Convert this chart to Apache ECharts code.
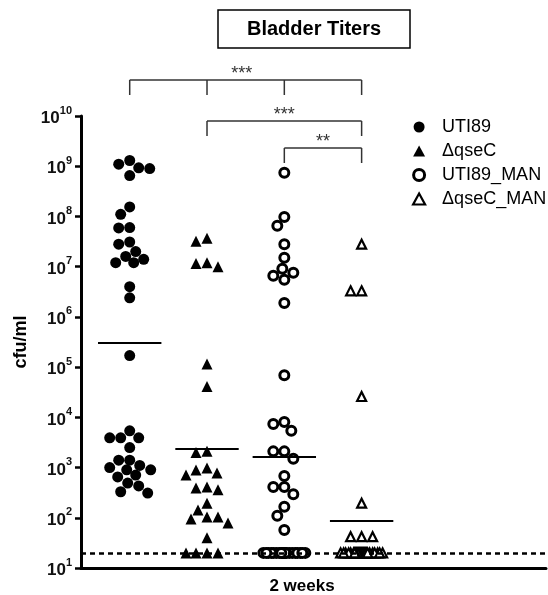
<!DOCTYPE html>
<html>
<head>
<meta charset="utf-8">
<script src="https://cdn.jsdelivr.net/npm/echarts@6/dist/echarts.min.js"></script>
<style>html,body{margin:0;padding:0;background:#fff}#chart{width:548px;height:595px}</style>
</head>
<body>
<div id="chart"></div>
<script>
var FONT = '"Liberation Sans", Arial, sans-serif';

var groupNames = ['UTI89', '\u0394qseC', 'UTI89_MAN', '\u0394qseC_MAN'];
var groupPos = [1, 2, 3, 4];

// cfu/ml (points at the limit drawn at 20)
var uti89 = [1.3e9, 1.1e9, 9.3e8, 9.0e8, 6.5e8, 1.55e8, 1.1e8, 6.0e7, 5.9e7, 3.1e7, 2.8e7, 2.0e7,
	1.6e7, 1.4e7, 1.2e7, 1.2e7, 4.0e6, 2.4e6, 1.7e5, 5.4e3, 3.9e3, 3.9e3, 3.9e3, 2.5e3,
	1.4e3, 1.4e3, 1.1e3, 1.0e3, 900, 900, 710, 650, 490, 430, 330, 310];
var qseC = [3.7e7, 3.2e7, 1.2e7, 1.15e7, 1.0e7, 1.15e5, 4.1e4, 2.1e3, 2.0e3, 980, 890, 780, 710,
	410, 390, 360, 195, 143, 104, 104, 95, 79, 40, 20, 20, 20, 20];
var uti89Man = [7.4e8, 9.8e7, 6.5e7, 2.8e7, 1.5e7, 9.1e6, 7.6e6, 6.6e6, 5.5e6, 1.9e6, 6.9e4,
	8.1e3, 7.4e3, 5.4e3, 2.1e3, 2.1e3, 1.5e3, 680, 410, 410, 295, 165, 110, 57,
	20, 20, 20, 20, 20, 20, 20, 20, 20, 20, 20, 20, 20, 20, 20, 20, 20, 20, 20, 20];
var qseCMan = [2.8e7, 3.3e6, 3.3e6, 2.6e4, 195, 42, 42, 42,
	20, 20, 20, 20, 20, 20, 20, 20, 20, 20, 20, 20, 20, 20, 20, 20, 20, 20, 20, 20, 20, 20, 20, 20, 20, 20];
var detectionLimit = 20;
var yTickExp = [1, 10];

// brackets: [from group, to group, stars, y of bar]
var brackets = [
	[0, 3, '***', 80],
	[1, 3, '***', 121],
	[2, 3, '**', 148]
];

var PX_PER_DECADE = 452 / 9, PX_PER_UNIT = 77.3;

// simple beeswarm so the dots spread sideways like the prism plot
var swarm = function(values, center){
	var placed = [];
	var sorted = values.slice().sort(function(a, b){ return b - a; });
	return sorted.map(function(v){
		var py = Math.log10(v) * PX_PER_DECADE;
		var off = null;
		for (var d = 11; d > 0 && off === null; d--) {
			for (var k = 0; k <= 21 && off === null; k++) {
				var tries = k === 0 ? [0] : [-k, k];
				for (var t = 0; t < tries.length; t++) {
					var o = tries[t];
					var ok = placed.every(function(p){
						var dx = p[0] - o, dy = p[1] - py;
						return dx * dx + dy * dy >= d * d;
					});
					if (ok) { off = o; break; }
				}
			}
		}
		if (off === null) off = 0;
		placed.push([off, py]);
		return [center + off / PX_PER_UNIT, v];
	});
};

var geoMean = function(values){
	var s = 0;
	for (var i = 0; i < values.length; i++) s += Math.log10(values[i]);
	return Math.pow(10, s / values.length);
};

var allGroups = [uti89, qseC, uti89Man, qseCMan];
var symbols = ['circle', 'triangle', 'circle', 'triangle'];
var styles = [
	{color: '#000', opacity: 1},
	{color: '#000', opacity: 1},
	{color: '#fff', borderColor: '#000', borderWidth: 3, opacity: 1},
	{color: '#fff', borderColor: '#000', borderWidth: 2.2, opacity: 1}
];
var sizes = [11, 11, 9, 9];

var series = allGroups.map(function(vals, i){
	var gm = geoMean(vals);
	var s = {
		name: groupNames[i],
		type: 'scatter',
		symbol: symbols[i],
		symbolSize: sizes[i],
		itemStyle: styles[i],
		data: swarm(vals, groupPos[i]),
		z: 3,
		markLine: {
			silent: true,
			symbol: 'none',
			label: {show: false},
			lineStyle: {color: '#000', width: 2, type: 'solid'},
			data: [[{coord: [groupPos[i] - 0.41, gm]}, {coord: [groupPos[i] + 0.41, gm]}]]
		}
	};
	if (i === 0) {
		s.markLine.data.push({yAxis: detectionLimit, lineStyle: {type: [5, 4], width: 2.5, color: '#000'}});
	}
	return s;
});

var myChart = echarts.init(document.getElementById('chart'));
var option = {
	animation: false,
	backgroundColor: '#fff',
	title: {
		text: 'Bladder Titers',
		left: 218, top: 10,
		padding: [9, 29],
		borderColor: '#000', borderWidth: 1.5,
		textStyle: {fontFamily: FONT, fontWeight: 'bold', fontSize: 20, color: '#000'}
	},
	legend: {
		orient: 'vertical',
		left: 407, top: 113,
		itemWidth: 12, itemHeight: 11, itemGap: 6,
		textStyle: {fontFamily: FONT, fontSize: 18, color: '#000', padding: [0, 0, 0, 12]},
		data: groupNames.map(function(n, i){
			return {name: n, itemStyle: styles[i]};
		})
	},
	grid: {left: 81, right: 2, top: 116, bottom: 27, outerBoundsMode: 'none'},
	xAxis: {
		type: 'value', min: 0.37, max: 6.385,
		axisLine: {lineStyle: {color: '#000', width: 3}},
		axisTick: {show: false}, axisLabel: {show: false}, splitLine: {show: false}
	},
	yAxis: {
		type: 'log', logBase: 10,
		min: Math.pow(10, yTickExp[0]), max: Math.pow(10, yTickExp[1]), interval: 1,
		name: 'cfu/ml', nameLocation: 'middle', nameGap: 45, nameRotate: 90,
		nameTextStyle: {fontFamily: FONT, fontWeight: 'bold', fontSize: 18, color: '#000'},
		axisLine: {show: true, lineStyle: {color: '#000', width: 3}},
		axisTick: {show: true, length: 6, lineStyle: {color: '#000', width: 2.5}},
		minorTick: {show: false},
		splitLine: {show: false},
		axisLabel: {
			margin: 9,
			formatter: function(v){ return '{b|10}{s|' + Math.round(Math.log10(v)) + '}'; },
			rich: {
				b: {fontFamily: FONT, fontWeight: 'bold', fontSize: 17, color: '#111', lineHeight: 22, verticalAlign: 'bottom'},
				s: {fontFamily: FONT, fontWeight: 'bold', fontSize: 11, color: '#111', lineHeight: 12, verticalAlign: 'top'}
			}
		}
	},
	series: series
};
myChart.setOption(option);

// significance brackets and the x label
var gx = groupPos.map(function(g){ return myChart.convertToPixel({xAxisIndex: 0}, g); });
var graphics = [];
var lineStyle = {stroke: '#333', lineWidth: 1.5};
brackets.forEach(function(b){
	var y = b[3], x1 = gx[b[0]], x2 = gx[b[1]];
	graphics.push({type: 'line', shape: {x1: x1, y1: y, x2: x2, y2: y}, style: lineStyle});
	for (var i = b[0]; i <= b[1]; i++) {
		if (b[0] === 0 || i === b[0] || i === b[1]) {
			graphics.push({type: 'line', shape: {x1: gx[i], y1: y, x2: gx[i], y2: y + 15}, style: lineStyle});
		}
	}
	var cx = b[0] === 0 ? (x1 + x2) / 2 - 4 : (x1 + x2) / 2;
	graphics.push({type: 'text', x: cx, y: y - 6, style: {text: b[2], fill: '#333', font: '18px ' + FONT, align: 'center', verticalAlign: 'middle'}});
});
graphics.push({type: 'text', x: 302, y: 586, style: {text: '2 weeks', fill: '#000', font: 'bold 17px ' + FONT, align: 'center', verticalAlign: 'middle'}});
myChart.setOption({graphic: graphics});
</script>
</body>
</html>
